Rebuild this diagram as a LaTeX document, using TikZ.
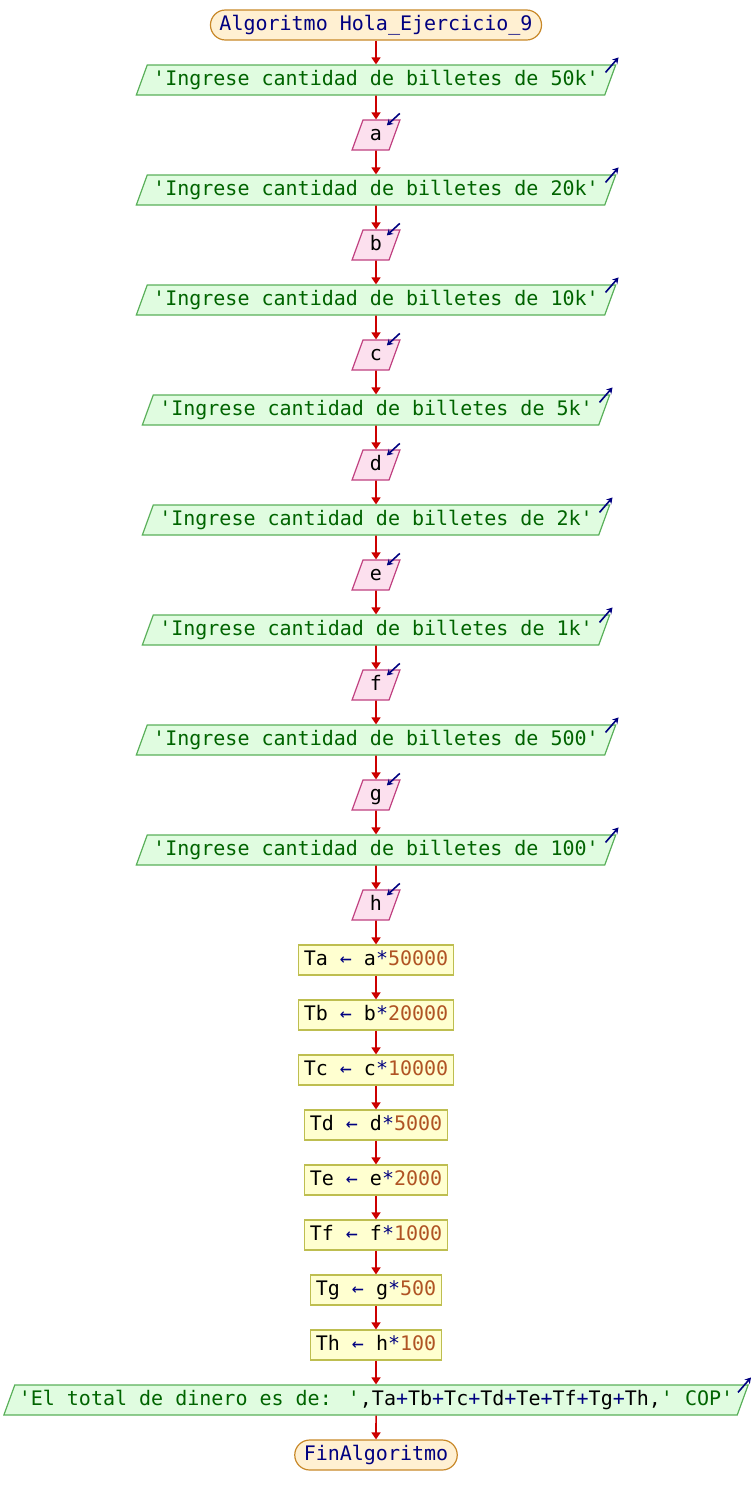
\documentclass[tikz,border=0pt]{standalone}
\usepackage{fontspec}
\newfontfamily\codefont[Ligatures=TeXOff]{DejaVu Sans Mono}
\usetikzlibrary{shapes.geometric,arrows.meta}

\definecolor{kw}{RGB}{0,0,128}
\definecolor{str}{RGB}{0,100,0}
\definecolor{num}{RGB}{176,84,36}
\definecolor{flowred}{RGB}{204,0,0}
\definecolor{termfill}{RGB}{255,240,210}
\definecolor{termline}{RGB}{200,136,40}
\definecolor{outfill}{RGB}{224,252,224}
\definecolor{outline}{RGB}{90,176,90}
\definecolor{infill}{RGB}{252,224,238}
\definecolor{inline}{RGB}{192,64,128}
\definecolor{asgfill}{RGB}{255,255,208}
\definecolor{asgline}{RGB}{190,190,80}

\tikzset{
  every node/.style={font=\codefont\fontsize{20}{22}\selectfont,
    inner sep=5pt, text height=15pt, text depth=5pt, line width=1.2pt},
  term/.style={rectangle, rounded corners=15pt, draw=termline, fill=termfill,
    inner xsep=9pt, text=kw},
  outp/.style={trapezium, trapezium left angle=70, trapezium right angle=110,
    draw=outline, fill=outfill, inner xsep=6pt, text=str},
  inp/.style={trapezium, trapezium left angle=70, trapezium right angle=110,
    draw=inline, fill=infill, inner xsep=7pt},
  asg/.style={rectangle, draw=asgline, fill=asgfill, inner xsep=5.5pt},
  flow/.style={draw=flowred, line width=1.6pt, -{Triangle[width=9pt,length=7pt]}},
  outicon/.style={draw=kw, line width=1.6pt, -{Stealth[width=7pt,length=6pt]}},
  inicon/.style={draw=kw, line width=1.6pt, -{Stealth[width=7pt,length=6pt]}}
}
\newcommand{\op}[1]{\textcolor{kw}{#1}}
\newcommand{\nm}[1]{\textcolor{num}{#1}}

\begin{document}
\begin{tikzpicture}[x=1pt,y=-1pt]
\useasboundingbox (0,0) rectangle (752,1505);
% nodes
\node[term] (start) at (376,25) {Algoritmo Hola\_Ejercicio\_9};
\node[outp] (o1) at (376,80) {'Ingrese cantidad de billetes de 50k'};
\node[inp] (a) at (376,135) {a};
\node[outp] (o2) at (376,190) {'Ingrese cantidad de billetes de 20k'};
\node[inp] (b) at (376,245) {b};
\node[outp] (o3) at (376,300) {'Ingrese cantidad de billetes de 10k'};
\node[inp] (c) at (376,355) {c};
\node[outp] (o4) at (376,410) {'Ingrese cantidad de billetes de 5k'};
\node[inp] (d) at (376,465) {d};
\node[outp] (o5) at (376,520) {'Ingrese cantidad de billetes de 2k'};
\node[inp] (e) at (376,575) {e};
\node[outp] (o6) at (376,630) {'Ingrese cantidad de billetes de 1k'};
\node[inp] (f) at (376,685) {f};
\node[outp] (o7) at (376,740) {'Ingrese cantidad de billetes de 500'};
\node[inp] (g) at (376,795) {g};
\node[outp] (o8) at (376,850) {'Ingrese cantidad de billetes de 100'};
\node[inp] (h) at (376,905) {h};
\node[asg] (ta) at (376,960) {Ta \op{←} a\op{*}\nm{50000}};
\node[asg] (tb) at (376,1015) {Tb \op{←} b\op{*}\nm{20000}};
\node[asg] (tc) at (376,1070) {Tc \op{←} c\op{*}\nm{10000}};
\node[asg] (td) at (376,1125) {Td \op{←} d\op{*}\nm{5000}};
\node[asg] (te) at (376,1180) {Te \op{←} e\op{*}\nm{2000}};
\node[asg] (tf) at (376,1235) {Tf \op{←} f\op{*}\nm{1000}};
\node[asg] (tg) at (376,1290) {Tg \op{←} g\op{*}\nm{500}};
\node[asg] (th) at (376,1345) {Th \op{←} h\op{*}\nm{100}};
\node[outp, inner xsep=4pt] (total) at (376,1400) {'El total de dinero es de: '\textcolor{black}{,Ta\op{+}Tb\op{+}Tc\op{+}Td\op{+}Te\op{+}Tf\op{+}Tg\op{+}Th,}' COP'};
\node[term] (fin) at (376,1455) {FinAlgoritmo};
% connectors
\draw[flow] (start) -- (o1);
\draw[flow] (o1) -- (a);
\draw[flow] (a) -- (o2);
\draw[flow] (o2) -- (b);
\draw[flow] (b) -- (o3);
\draw[flow] (o3) -- (c);
\draw[flow] (c) -- (o4);
\draw[flow] (o4) -- (d);
\draw[flow] (d) -- (o5);
\draw[flow] (o5) -- (e);
\draw[flow] (e) -- (o6);
\draw[flow] (o6) -- (f);
\draw[flow] (f) -- (o7);
\draw[flow] (o7) -- (g);
\draw[flow] (g) -- (o8);
\draw[flow] (o8) -- (h);
\draw[flow] (h) -- (ta);
\draw[flow] (ta) -- (tb);
\draw[flow] (tb) -- (tc);
\draw[flow] (tc) -- (td);
\draw[flow] (td) -- (te);
\draw[flow] (te) -- (tf);
\draw[flow] (tf) -- (tg);
\draw[flow] (tg) -- (th);
\draw[flow] (th) -- (total);
\draw[flow] (total) -- (fin);
% output and input marks
\foreach \n in {o1,o2,o3,o4,o5,o6,o7,o8,total}
  \draw[outicon] ([shift={(-11pt,-8pt)}]\n.top right corner) -- ++(13pt,15pt);
\foreach \n in {a,b,c,d,e,f,g,h}
  \draw[inicon] ([shift={(-1pt,6pt)}]\n.top right corner) -- ++(-13pt,-12pt);
\end{tikzpicture}
\end{document}
